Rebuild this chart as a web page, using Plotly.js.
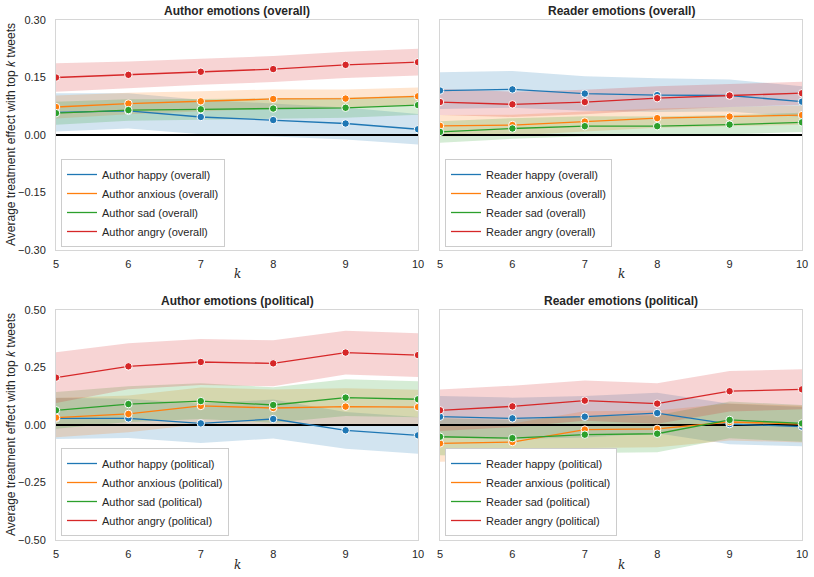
<!DOCTYPE html>
<html><head><meta charset="utf-8">
<script src="https://cdn.plot.ly/plotly-3.0.1.min.js"></script>
<style>html,body{margin:0;padding:0;background:#fff}</style>
</head><body><div id="chart" style="width:814px;height:577px"></div>
<script>
const K = [5, 6, 7, 8, 9, 10];
const emotions = ["happy", "anxious", "sad", "angry"];
const colors = ["#1f77b4", "#ff7f0e", "#2ca02c", "#d62728"];

// Author emotions (overall)
const authorOverallMean = [
  [0.059, 0.063, 0.047, 0.039, 0.030, 0.015],
  [0.073, 0.082, 0.088, 0.094, 0.095, 0.101],
  [0.057, 0.065, 0.067, 0.069, 0.071, 0.078],
  [0.150, 0.157, 0.165, 0.172, 0.183, 0.190]
];
const authorOverallCI = [
  [0.050, 0.046, 0.045, 0.043, 0.042, 0.040],
  [0.030, 0.028, 0.026, 0.025, 0.024, 0.023],
  [0.030, 0.028, 0.027, 0.026, 0.026, 0.025],
  [0.037, 0.035, 0.034, 0.034, 0.034, 0.035]
];
// Reader emotions (overall)
const readerOverallMean = [
  [0.116, 0.119, 0.108, 0.104, 0.103, 0.087],
  [0.024, 0.026, 0.035, 0.044, 0.048, 0.052],
  [0.008, 0.017, 0.023, 0.023, 0.027, 0.033],
  [0.086, 0.080, 0.086, 0.096, 0.103, 0.109]
];
const readerOverallCI = [
  [0.048, 0.048, 0.045, 0.044, 0.042, 0.040],
  [0.028, 0.027, 0.026, 0.025, 0.025, 0.025],
  [0.028, 0.027, 0.026, 0.025, 0.025, 0.025],
  [0.034, 0.033, 0.032, 0.031, 0.030, 0.030]
];
// Author emotions (political)
const authorPoliticalMean = [
  [0.029, 0.029, 0.007, 0.026, -0.023, -0.045],
  [0.032, 0.048, 0.083, 0.074, 0.080, 0.078],
  [0.064, 0.091, 0.104, 0.087, 0.119, 0.112],
  [0.206, 0.255, 0.274, 0.268, 0.315, 0.304]
];
const authorPoliticalCI = [
  [0.090, 0.085, 0.085, 0.085, 0.080, 0.080],
  [0.085, 0.080, 0.080, 0.080, 0.080, 0.075],
  [0.080, 0.078, 0.078, 0.077, 0.080, 0.078],
  [0.110, 0.100, 0.100, 0.100, 0.095, 0.095]
];
// Reader emotions (political)
const readerPoliticalMean = [
  [0.036, 0.029, 0.036, 0.052, 0.004, -0.007],
  [-0.080, -0.074, -0.020, -0.017, 0.013, 0.004],
  [-0.051, -0.057, -0.042, -0.038, 0.022, 0.007],
  [0.064, 0.081, 0.106, 0.093, 0.147, 0.155]
];
const readerPoliticalCI = [
  [0.090, 0.090, 0.090, 0.088, 0.088, 0.085],
  [0.080, 0.080, 0.080, 0.080, 0.080, 0.080],
  [0.080, 0.080, 0.080, 0.080, 0.080, 0.080],
  [0.090, 0.090, 0.088, 0.088, 0.088, 0.087]
];

const panelTitles = ["Author emotions (overall)", "Reader emotions (overall)", "Author emotions (political)", "Reader emotions (political)"];
const legendPrefix = ["Author", "Reader", "Author", "Reader"];
const legendSuffix = ["overall", "overall", "political", "political"];
const topTicks = [-0.30, -0.15, 0.00, 0.15, 0.30];
const bottomTicks = [-0.50, -0.25, 0.00, 0.25, 0.50];

const panels = [
  {mean: authorOverallMean, ci: authorOverallCI, xa: "x", ya: "y", leg: "legend"},
  {mean: readerOverallMean, ci: readerOverallCI, xa: "x2", ya: "y2", leg: "legend2"},
  {mean: authorPoliticalMean, ci: authorPoliticalCI, xa: "x3", ya: "y3", leg: "legend3"},
  {mean: readerPoliticalMean, ci: readerPoliticalCI, xa: "x4", ya: "y4", leg: "legend4"}
];

function rgba(hex, a) {
  const r = parseInt(hex.slice(1,3),16), g = parseInt(hex.slice(3,5),16), b = parseInt(hex.slice(5,7),16);
  return `rgba(${r},${g},${b},${a})`;
}

const traces = [];
panels.forEach((p, pi) => {
  // bands
  p.mean.forEach((m, si) => {
    const hi = m.map((v, i) => v + p.ci[si][i]);
    const lo = m.map((v, i) => v - p.ci[si][i]);
    traces.push({
      x: K.concat(K.slice().reverse()),
      y: hi.concat(lo.slice().reverse()),
      xaxis: p.xa, yaxis: p.ya, type: "scatter", mode: "lines",
      fill: "toself", fillcolor: rgba(colors[si], 0.2),
      line: {width: 0, color: "rgba(0,0,0,0)"}, showlegend: false, hoverinfo: "skip"
    });
  });
  // zero line
  traces.push({x: [K[0], K[K.length-1]], y: [0, 0], xaxis: p.xa, yaxis: p.ya, type: "scatter", mode: "lines",
    line: {color: "#000", width: 2}, showlegend: false, hoverinfo: "skip"});
  // lines + markers
  p.mean.forEach((m, si) => {
    traces.push({x: K, y: m, xaxis: p.xa, yaxis: p.ya, type: "scatter", mode: "lines+markers",
      line: {color: colors[si], width: 1.3},
      marker: {color: colors[si], size: 7.5, line: {color: "#fff", width: 1}},
      showlegend: false});
  });
  // legend entries (line only)
  emotions.forEach((e, si) => {
    traces.push({x: [null], y: [null], xaxis: p.xa, yaxis: p.ya, type: "scatter", mode: "lines",
      line: {color: colors[si], width: 1.3},
      name: `${legendPrefix[pi]} ${e} (${legendSuffix[pi]})`, legend: p.leg, showlegend: true});
  });
});

const W = 814, H = 577;
const px = v => v / W, py = v => 1 - v / H;
const font = {family: "Liberation Sans, Arial, sans-serif", size: 11, color: "#262626"};

function xax(l, r, anchor) {
  return {domain: [px(l), px(r)], range: [5, 10], tickvals: K, ticks: "", showgrid: false, zeroline: false,
    showline: true, mirror: true, linecolor: "#d6d6d6", linewidth: 1, anchor: anchor,
    tickfont: font, ticklabelstandoff: 4, automargin: false, fixedrange: true};
}
function yax(t, b, ticks, showLabels, anchor) {
  return {domain: [py(b), py(t)], range: [ticks[0], ticks[ticks.length-1]], tickvals: ticks,
    tickformat: ".2f", ticks: "", showgrid: false, zeroline: false, showline: true, mirror: true,
    linecolor: "#d6d6d6", linewidth: 1, showticklabels: showLabels, anchor: anchor,
    tickfont: font, ticklabelstandoff: 7, automargin: false, fixedrange: true};
}

function legendAt(xl, yb) {
  return {x: px(xl), y: py(yb), xanchor: "left", yanchor: "bottom", bgcolor: "#fff",
    bordercolor: "#cccccc", borderwidth: 1, font: font, itemwidth: 30, tracegroupgap: 0};
}

const annotations = [];
const titlePos = [[237, 11], [621, 11], [237, 301], [621, 301]];
panelTitles.forEach((t, i) => {
  annotations.push({text: "<b>" + t + "</b>", x: px(titlePos[i][0]), y: py(titlePos[i][1]), xref: "paper", yref: "paper",
    showarrow: false, xanchor: "center", yanchor: "middle", font: {family: font.family, size: 12, color: "#262626"}});
});
[[237, 274], [621, 274], [237, 565], [621, 565]].forEach(p => {
  annotations.push({text: "<i>k</i>", x: px(p[0]), y: py(p[1]), xref: "paper", yref: "paper", showarrow: false,
    xanchor: "center", yanchor: "middle", font: {family: "DejaVu Serif, serif", size: 12, color: "#262626"}});
});
[135, 425].forEach(yc => {
  annotations.push({text: "Average treatment effect with top <i>k</i> tweets", x: px(11), y: py(yc), xref: "paper", yref: "paper",
    showarrow: false, textangle: -90, xanchor: "center", yanchor: "middle", font: {family: font.family, size: 12, color: "#262626"}});
});

const layout = {
  width: W, height: H, margin: {l: 0, r: 0, t: 0, b: 0}, paper_bgcolor: "#fff", plot_bgcolor: "#fff",
  font: font, showlegend: true,
  xaxis: xax(56, 418, "y"), yaxis: yax(20, 250, topTicks, true, "x"),
  xaxis2: xax(440, 802, "y2"), yaxis2: yax(20, 250, topTicks, false, "x2"),
  xaxis3: xax(56, 418, "y3"), yaxis3: yax(310, 540, bottomTicks, true, "x3"),
  xaxis4: xax(440, 802, "y4"), yaxis4: yax(310, 540, bottomTicks, false, "x4"),
  legend: legendAt(61, 247), legend2: legendAt(445, 247), legend3: legendAt(61, 536), legend4: legendAt(445, 536),
  annotations: annotations
};

Plotly.newPlot("chart", traces, layout, {displayModeBar: false, staticPlot: true});
</script></body></html>
